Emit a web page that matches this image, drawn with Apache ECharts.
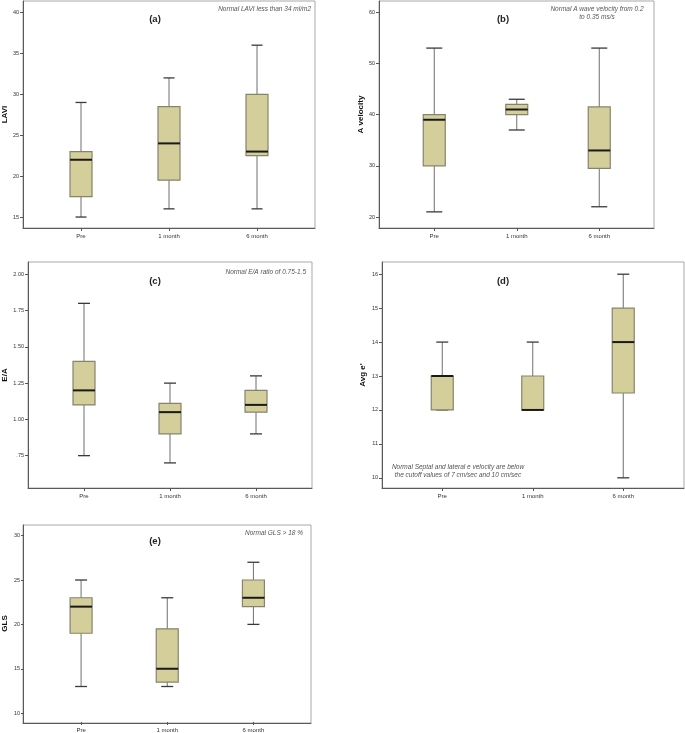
<!DOCTYPE html>
<html><head><meta charset="utf-8">
<script src="https://cdn.jsdelivr.net/npm/echarts@6/dist/echarts.min.js"></script>
<style>html,body{margin:0;padding:0;background:#fff}#c{width:685px;height:733px}</style>
</head><body><div id="c"></div>
<script>
// ---------- data ----------
const categories = ['Pre', '1 month', '6 month'];
// each row: [min, Q1, median, Q3, max]
const laviValues = [[15, 17.5, 22, 23, 29], [16, 19.5, 24, 28.5, 32], [16, 22.5, 23, 30, 36]];
const aVelocityValues = [[21, 30, 39, 40, 53], [37, 40, 41, 42, 43], [22, 29.5, 33, 41.5, 53]];
const eaValues = [[0.75, 1.10, 1.20, 1.40, 1.80], [0.70, 0.90, 1.05, 1.11, 1.25], [0.90, 1.05, 1.10, 1.20, 1.30]];
const avgEValues = [[12, 12, 13, 13, 14], [12, 12, 12, 13, 14], [10, 12.5, 14, 15, 16]];
const glsValues = [[13, 19, 22, 23, 25], [13, 13.5, 15, 19.5, 23], [20, 22, 23, 25, 27]];

const laviTicks = [15, 20, 25, 30, 35, 40];
const laviTickLabels = ['15', '20', '25', '30', '35', '40'];
const aVelocityTicks = [20, 30, 40, 50, 60];
const aVelocityTickLabels = ['20', '30', '40', '50', '60'];
const eaTicks = [0.75, 1.0, 1.25, 1.5, 1.75, 2.0];
const eaTickLabels = ['.75', '1.00', '1.25', '1.50', '1.75', '2.00'];
const avgETicks = [10, 11, 12, 13, 14, 15, 16];
const avgETickLabels = ['10', '11', '12', '13', '14', '15', '16'];
const glsTicks = [10, 15, 20, 25, 30];
const glsTickLabels = ['10', '15', '20', '25', '30'];

const yNames = ['LAVI', 'A velocity', 'E/A', "Avg e'", 'GLS'];
const panelTitles = ['(a)', '(b)', '(c)', '(d)', '(e)'];
const notes = [
  'Normal LAVI less than 34 ml/m2',
  'Normal A wave velocity from 0.2\nto 0.35 ms/s',
  'Normal E/A ratio of 0.75-1.5',
  'Normal Septal and lateral e velocity are below\nthe cutoff values of 7 cm/sec and 10 cm/sec',
  'Normal GLS > 18 %'
];

// ---------- layout (positions / styles only) ----------
const FONT = 'Liberation Sans, Arial, sans-serif';
const panels = [
  { values: laviValues, ticks: laviTicks, labels: laviTickLabels, min: 13.66, max: 41.4,
    frame: [23, 1, 292, 227], plotLeft: 37, plotWidth: 264, nameGap: 14, cap: 11,
    title: [155, 19], note: { x: 311, y: 9, align: 'right' } },
  { values: aVelocityValues, ticks: aVelocityTicks, labels: aVelocityTickLabels, min: 17.85, max: 62.2,
    frame: [379, 1, 275, 227], plotLeft: 393, plotWidth: 247.5, nameGap: 13, cap: 16,
    title: [503, 19], note: { x: 597, y: 13, align: 'center' } },
  { values: eaValues, ticks: eaTicks, labels: eaTickLabels, min: 0.527, max: 2.085,
    frame: [28, 262, 284, 226], plotLeft: 41, plotWidth: 258, nameGap: 19, cap: 12,
    title: [155, 281], note: { x: 306, y: 272, align: 'right' } },
  { values: avgEValues, ticks: avgETicks, labels: avgETickLabels, min: 9.70, max: 16.36,
    frame: [382, 262, 302, 226], plotLeft: 397, plotWidth: 271.5, nameGap: 15, cap: 12,
    title: [503, 281], note: { x: 458, y: 471, align: 'center' } },
  { values: glsValues, ticks: glsTicks, labels: glsTickLabels, min: 9.0, max: 31.2,
    frame: [23, 525, 288, 198], plotLeft: 37, plotWidth: 259.5, nameGap: 15, cap: 12,
    title: [155, 541], note: { x: 303, y: 533, align: 'right' } }
];

function makeRender(boxW, capW) {
  return function (params, api) {
    const i = api.value(0);
    const pts = [1, 2, 3, 4, 5].map(k => api.coord([i, api.value(k)]));
    const cx = pts[0][0];
    const lo = pts[0][1], q1 = pts[1][1], md = pts[2][1], q3 = pts[3][1], hi = pts[4][1];
    const wStyle = { stroke: '#6f6f6f', lineWidth: 1 };
    const cStyle = { stroke: '#3a3a3a', lineWidth: 1.3 };
    return {
      type: 'group',
      children: [
        { type: 'line', shape: { x1: cx, y1: hi, x2: cx, y2: q3 }, style: wStyle },
        { type: 'line', shape: { x1: cx, y1: q1, x2: cx, y2: lo }, style: wStyle },
        { type: 'line', shape: { x1: cx - capW / 2, y1: hi, x2: cx + capW / 2, y2: hi }, style: cStyle },
        { type: 'line', shape: { x1: cx - capW / 2, y1: lo, x2: cx + capW / 2, y2: lo }, style: cStyle },
        { type: 'rect', shape: { x: cx - boxW / 2, y: q3, width: boxW, height: q1 - q3 },
          style: { fill: '#D4CF9A', stroke: '#85836c', lineWidth: 1.2 } },
        { type: 'line', shape: { x1: cx - boxW / 2, y1: md, x2: cx + boxW / 2, y2: md },
          style: { stroke: '#1a1a1a', lineWidth: 2 } }
      ]
    };
  };
}

const grid = [], xAxis = [], yAxis = [], series = [], graphic = [];
panels.forEach((p, k) => {
  const [fl, ft, fw, fh] = p.frame;
  // frame grid
  grid.push({ left: fl, top: ft, width: fw, height: fh, show: true,
    borderColor: '#a8a8a8', borderWidth: 1, backgroundColor: 'transparent' });
  xAxis.push({ gridIndex: 2 * k, type: 'value', min: 0, max: 1,
    axisLine: { show: true, lineStyle: { color: '#5a5a5a', width: 1 } },
    axisTick: { show: false }, axisLabel: { show: false }, splitLine: { show: false } });
  yAxis.push({ gridIndex: 2 * k, type: 'value', min: 0, max: 1,
    axisLine: { show: true, lineStyle: { color: '#5a5a5a', width: 1 } },
    axisTick: { show: false }, axisLabel: { show: false }, splitLine: { show: false } });
  // plot grid
  grid.push({ left: p.plotLeft, top: ft, width: p.plotWidth, height: fh });
  xAxis.push({ gridIndex: 2 * k + 1, type: 'category', data: categories,
    axisLine: { show: false },
    axisTick: { show: true, alignWithLabel: true, length: 3, lineStyle: { color: '#555' } },
    axisLabel: { fontSize: 6, color: '#333', margin: 5, fontFamily: FONT },
    splitLine: { show: false } });
  const labelOf = v => { const j = p.ticks.findIndex(t => Math.abs(t - v) < 1e-9); return j >= 0 ? p.labels[j] : ''; };
  yAxis.push({ gridIndex: 2 * k + 1, type: 'value', min: p.min, max: p.max,
    offset: p.plotLeft - fl,
    axisLine: { show: false },
    axisTick: { show: true, length: 3, customValues: p.ticks, lineStyle: { color: '#555' } },
    axisLabel: { customValues: p.ticks, formatter: labelOf, fontSize: 5.5, color: '#333', margin: 4, fontFamily: FONT },
    splitLine: { show: false },
    name: yNames[k], nameLocation: 'middle', nameRotate: 90, nameGap: p.nameGap,
    nameTextStyle: { fontWeight: 'bold', fontSize: 8, color: '#111', fontFamily: FONT } });
  series.push({ type: 'custom', xAxisIndex: 2 * k + 1, yAxisIndex: 2 * k + 1,
    data: p.values.map((v, i) => [i].concat(v)),
    encode: { x: 0, y: [1, 2, 3, 4, 5] },
    renderItem: makeRender(22, p.cap), silent: true });
  graphic.push({ type: 'text', x: p.title[0], y: p.title[1],
    style: { text: panelTitles[k], font: 'bold 9.5px ' + FONT, fill: '#222', align: 'center', verticalAlign: 'middle' } });
  graphic.push({ type: 'text', x: p.note.x, y: p.note.y,
    style: { text: notes[k], font: 'italic 6.5px ' + FONT, fill: '#555', align: p.note.align,
      verticalAlign: 'middle', lineHeight: 7.5 } });
});

const chart = echarts.init(document.getElementById('c'), null, { renderer: 'canvas' });
chart.setOption({ animation: false, backgroundColor: '#fff', grid, xAxis, yAxis, series, graphic });
</script>
</body></html>
